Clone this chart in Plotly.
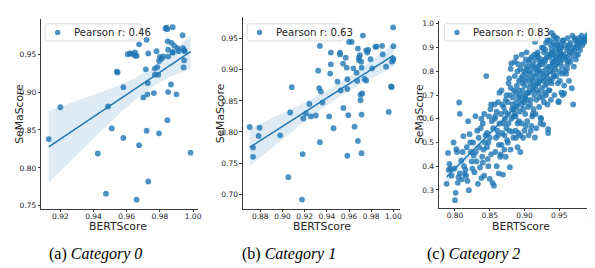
import numpy as np
import plotly.graph_objects as go

W, H = 595, 268
BLUE = "#1f77b4"
TXT = "#262626"

# ---------------- data ----------------
cat0_bert = [0.913, 0.920, 0.9426, 0.9475, 0.9487, 0.951, 0.954, 0.9545, 0.958, 0.958,
             0.9606, 0.962, 0.963, 0.965, 0.965, 0.966, 0.966, 0.9675, 0.9675, 0.970,
             0.9715, 0.972, 0.972, 0.9725, 0.9727, 0.973, 0.973, 0.9764, 0.977, 0.977,
             0.978, 0.9785, 0.979, 0.9795, 0.9795, 0.980, 0.981, 0.982, 0.9834, 0.984,
             0.9845, 0.9845, 0.9847, 0.985, 0.985, 0.985, 0.9867, 0.987, 0.9877, 0.9877,
             0.9877, 0.9887, 0.990, 0.9907, 0.9913, 0.9937, 0.994, 0.9943, 0.9946, 0.9946,
             0.9985, 0.995]
cat0_sema = [0.838, 0.880, 0.819, 0.766, 0.881, 0.852, 0.927, 0.926, 0.9065, 0.8395,
             0.950, 0.951, 0.9505, 0.9525, 0.948, 0.948, 0.758, 0.963, 0.830, 0.893,
             0.930, 0.849, 0.969, 0.897, 0.912, 0.782, 0.951, 0.8987, 0.931, 0.923,
             0.954, 0.933, 0.923, 0.8456, 0.941, 0.9465, 0.944, 0.947, 0.984, 0.985,
             0.983, 0.863, 0.967, 0.900, 0.947, 0.956, 0.910, 0.965, 0.9857, 0.953,
             0.952, 0.961, 0.897, 0.958, 0.954, 0.975, 0.958, 0.9326, 0.942, 0.955,
             0.820, 0.954]

cat1_bert = [0.8704, 0.8735, 0.8735, 0.8785, 0.8794, 0.8979, 0.9053, 0.9069, 0.9084, 0.9176,
             0.9182, 0.9188, 0.9212, 0.9242, 0.9257, 0.9301, 0.9322, 0.9331, 0.9337, 0.9337,
             0.9346, 0.9361, 0.9421, 0.9430, 0.9436, 0.9436, 0.946, 0.9496, 0.9519, 0.9519,
             0.9525, 0.9546, 0.9549, 0.957, 0.9579, 0.9585, 0.9585, 0.9585, 0.9594, 0.960,
             0.9624, 0.9639, 0.965, 0.9668, 0.9674, 0.968, 0.968, 0.9689, 0.9689, 0.9698,
             0.9704, 0.9704, 0.971, 0.9713, 0.9713, 0.9713, 0.9719, 0.9725, 0.974, 0.9755,
             0.9755, 0.9764, 0.9773, 0.9794, 0.9809, 0.9838, 0.9847, 0.9898, 0.9904, 0.9934,
             0.9958, 0.9979, 0.9985, 0.9988, 0.9997, 1.000, 1.000, 0.9998]
cat1_sema = [0.808, 0.775, 0.760, 0.7937, 0.807, 0.7947, 0.7274, 0.8313, 0.872, 0.6914,
             0.7645, 0.8217, 0.8297, 0.845, 0.825, 0.8265, 0.8986, 0.8705, 0.7836, 0.9383,
             0.865, 0.8472, 0.825, 0.8938, 0.9087, 0.9277, 0.806, 0.881, 0.9277, 0.9246,
             0.8668, 0.910, 0.8387, 0.9193, 0.9034, 0.8848, 0.8689, 0.7618, 0.827, 0.9447,
             0.9447, 0.9023, 0.8085, 0.8954, 0.8822, 0.7857, 0.934, 0.9193, 0.9155, 0.9235,
             0.851, 0.860, 0.913, 0.9034, 0.828, 0.766, 0.862, 0.955, 0.8853, 0.931,
             0.8827, 0.9277, 0.932, 0.917, 0.9023, 0.9368, 0.9373, 0.9383, 0.9246, 0.905,
             0.8323, 0.8731, 0.872, 0.913, 0.9155, 0.918, 0.9378, 0.968]

cat2_bert = [
    0.788, 0.790, 0.791, 0.793, 0.795, 0.792,
    0.798, 0.800, 0.801, 0.802, 0.803, 0.805, 0.806, 0.807, 0.804, 0.799,
    0.807, 0.809, 0.810, 0.812, 0.813, 0.814, 0.811, 0.815,
    0.818, 0.819, 0.820, 0.821, 0.822, 0.823, 0.824, 0.817, 0.825, 0.816,
    0.827, 0.828, 0.8295, 0.830, 0.831, 0.833, 0.834, 0.832, 0.826, 0.835,
    0.836, 0.837, 0.838, 0.839, 0.840, 0.841, 0.842, 0.843, 0.844, 0.845, 0.838, 0.840, 0.842,
    0.846, 0.847, 0.848, 0.849, 0.850, 0.851, 0.852, 0.853, 0.854, 0.855, 0.848, 0.850, 0.852, 0.846,
    0.856, 0.857, 0.858, 0.859, 0.860, 0.861, 0.862, 0.863, 0.864, 0.865, 0.857, 0.860, 0.862, 0.864, 0.858, 0.863,
    0.866, 0.867, 0.868, 0.869, 0.870, 0.871, 0.872, 0.873, 0.874, 0.875, 0.866, 0.868, 0.870, 0.872, 0.874, 0.867, 0.871, 0.873,
    0.876, 0.877, 0.878, 0.879, 0.880, 0.881, 0.882, 0.883, 0.884, 0.885, 0.876, 0.878, 0.880, 0.881, 0.882, 0.883, 0.877, 0.879, 0.884, 0.885, 0.876, 0.880,
    0.886, 0.887, 0.888, 0.889, 0.890, 0.891, 0.892, 0.893, 0.894, 0.895, 0.886, 0.887, 0.888, 0.889, 0.890, 0.891, 0.892, 0.893, 0.894, 0.895, 0.886, 0.888, 0.890, 0.892, 0.894, 0.887, 0.891,
    0.896, 0.897, 0.898, 0.899, 0.900, 0.901, 0.902, 0.903, 0.904, 0.905, 0.896, 0.897, 0.898, 0.899, 0.900, 0.901, 0.902, 0.903, 0.904, 0.905, 0.896, 0.898, 0.900, 0.902, 0.904, 0.897, 0.901, 0.903,
    0.906, 0.907, 0.908, 0.909, 0.910, 0.911, 0.912, 0.913, 0.914, 0.915, 0.906, 0.907, 0.908, 0.909, 0.910, 0.911, 0.912, 0.913, 0.914, 0.915, 0.906, 0.908, 0.910, 0.912, 0.914, 0.909, 0.913, 0.915,
    0.916, 0.917, 0.918, 0.919, 0.920, 0.921, 0.922, 0.923, 0.924, 0.925, 0.916, 0.917, 0.918, 0.919, 0.920, 0.921, 0.922, 0.923, 0.924, 0.925, 0.916, 0.918, 0.920, 0.922, 0.924, 0.917, 0.921, 0.923,
    0.926, 0.927, 0.928, 0.929, 0.930, 0.931, 0.932, 0.933, 0.934, 0.935, 0.926, 0.927, 0.928, 0.929, 0.930, 0.931, 0.932, 0.933, 0.934, 0.935, 0.926, 0.928, 0.930, 0.932, 0.934, 0.927, 0.931, 0.933,
    0.936, 0.937, 0.938, 0.939, 0.940, 0.941, 0.942, 0.943, 0.944, 0.945, 0.936, 0.937, 0.938, 0.939, 0.940, 0.941, 0.942, 0.943, 0.944, 0.945, 0.936, 0.938, 0.940, 0.942, 0.944, 0.937, 0.941, 0.939,
    0.946, 0.947, 0.948, 0.949, 0.950, 0.951, 0.952, 0.953, 0.954, 0.955, 0.946, 0.947, 0.948, 0.949, 0.950, 0.951, 0.952, 0.953, 0.954, 0.955, 0.946, 0.948, 0.950, 0.952, 0.954, 0.949, 0.953,
    0.956, 0.957, 0.958, 0.959, 0.960, 0.961, 0.962, 0.963, 0.964, 0.965, 0.956, 0.958, 0.960, 0.962, 0.964, 0.957, 0.961, 0.963,
    0.966, 0.967, 0.968, 0.969, 0.970, 0.971, 0.972, 0.973, 0.974, 0.975, 0.966, 0.968, 0.970, 0.972, 0.974,
    0.976, 0.977, 0.978, 0.979, 0.980, 0.981, 0.982, 0.983, 0.984, 0.985, 0.977,
    0.986, 0.988, 0.990, 0.992, 0.995, 0.997,
]
cat2_sema = [
    0.326, 0.456, 0.385, 0.390, 0.360, 0.410,
    0.500, 0.257, 0.288, 0.472, 0.460, 0.354, 0.669, 0.621, 0.330, 0.390,
    0.370, 0.424, 0.345, 0.527, 0.400, 0.368, 0.460, 0.386,
    0.338, 0.590, 0.299, 0.535, 0.500, 0.460, 0.420, 0.480, 0.390, 0.360,
    0.445, 0.375, 0.611, 0.460, 0.420, 0.326, 0.520, 0.550, 0.500, 0.480,
    0.395, 0.560, 0.600, 0.440, 0.415, 0.470, 0.360, 0.500, 0.530, 0.780, 0.350, 0.580, 0.620,
    0.540, 0.430, 0.500, 0.610, 0.347, 0.640, 0.450, 0.590, 0.330, 0.560, 0.400, 0.520, 0.660, 0.480,
    0.318, 0.600, 0.460, 0.520, 0.630, 0.550, 0.670, 0.490, 0.580, 0.440, 0.660, 0.400, 0.530, 0.710, 0.610, 0.370,
    0.620, 0.720, 0.540, 0.365, 0.650, 0.470, 0.600, 0.680, 0.560, 0.510, 0.450, 0.660, 0.580, 0.630, 0.700, 0.490, 0.530, 0.440,
    0.620, 0.750, 0.550, 0.396, 0.810, 0.833, 0.640, 0.690, 0.520, 0.720, 0.670, 0.770, 0.470, 0.600, 0.545, 0.660, 0.580, 0.700, 0.610, 0.640, 0.500, 0.730,
    0.840, 0.550, 0.670, 0.740, 0.800, 0.830, 0.590, 0.700, 0.460, 0.770, 0.620, 0.710, 0.520, 0.650, 0.580, 0.690, 0.760, 0.630, 0.530, 0.680, 0.780, 0.860, 0.480, 0.720, 0.810, 0.610, 0.540,
    0.870, 0.720, 0.640, 0.800, 0.550, 0.760, 0.850, 0.680, 0.590, 0.820, 0.660, 0.780, 0.520, 0.700, 0.740, 0.620, 0.790, 0.880, 0.710, 0.650, 0.580, 0.830, 0.670, 0.570, 0.770, 0.750, 0.690, 0.810,
    0.840, 0.730, 0.660, 0.790, 0.860, 0.610, 0.760, 0.830, 0.700, 0.924, 0.530, 0.800, 0.750, 0.680, 0.570, 0.820, 0.720, 0.640, 0.870, 0.780, 0.710, 0.850, 0.770, 0.620, 0.810, 0.550, 0.740, 0.521,
    0.850, 0.790, 0.720, 0.880, 0.820, 0.650, 0.770, 0.840, 0.600, 0.900, 0.740, 0.680, 0.810, 0.760, 0.860, 0.710, 0.830, 0.580, 0.790, 0.730, 0.620, 0.870, 0.750, 0.690, 0.850, 0.560, 0.800, 0.604,
    0.830, 0.760, 0.880, 0.710, 0.850, 0.920, 0.790, 0.660, 0.820, 0.870, 0.690, 0.900, 0.780, 0.840, 0.740, 0.810, 0.860, 0.770, 0.556, 0.720, 0.800, 0.670, 0.890, 0.750, 0.540, 0.576, 0.700, 0.930,
    0.860, 0.800, 0.910, 0.750, 0.880, 0.830, 0.950, 0.780, 0.850, 0.900, 0.720, 0.870, 0.820, 0.962, 0.770, 0.920, 0.840, 0.700, 0.810, 0.860, 0.930, 0.680, 0.840, 0.790, 0.940, 0.760, 0.870, 0.890,
    0.880, 0.830, 0.920, 0.860, 0.800, 0.900, 0.840, 0.710, 0.870, 0.930, 0.780, 0.940, 0.850, 0.674, 0.890, 0.760, 0.910, 0.860, 0.820, 0.700, 0.910, 0.750, 0.860, 0.880, 0.790, 0.670, 0.900,
    0.870, 0.708, 0.910, 0.850, 0.790, 0.890, 0.940, 0.840, 0.760, 0.880, 0.930, 0.800, 0.860, 0.830, 0.910, 0.740, 0.810, 0.900,
    0.920, 0.860, 0.729, 0.950, 0.660, 0.820, 0.890, 0.930, 0.850, 0.910, 0.840, 0.880, 0.900, 0.940, 0.870,
    0.930, 0.900, 0.940, 0.920, 0.890, 0.930, 0.950, 0.910, 0.930, 0.920, 0.870,
    0.940, 0.930, 0.950, 0.940, 0.950, 0.940,
]

legend_labels = ["Pearson r: 0.46", "Pearson r: 0.63", "Pearson r: 0.83"]
caption_letters = ["(a)", "(b)", "(c)"]
caption_names = ["Category 0", "Category 1", "Category 2"]
x_label = "BERTScore"
y_label = "SeMaScore"
xtick_vals = [[0.92, 0.94, 0.96, 0.98, 1.00],
              [0.88, 0.90, 0.92, 0.94, 0.96, 0.98, 1.00],
              [0.80, 0.85, 0.90, 0.95, 1.00]]
ytick_vals = [[0.75, 0.80, 0.85, 0.90, 0.95],
              [0.70, 0.75, 0.80, 0.85, 0.90, 0.95],
              [0.3, 0.4, 0.5, 0.6, 0.7, 0.8, 0.9, 1.0]]
xtick_fmt = ["{:.2f}", "{:.2f}", "{:.2f}"]
ytick_fmt = ["{:.2f}", "{:.2f}", "{:.1f}"]

series = [(cat0_bert, cat0_sema), (cat1_bert, cat1_sema), (cat2_bert, cat2_sema)]
for bx, sy in series:
    assert len(bx) == len(sy), (len(bx), len(sy))

# ---------------- layout geometry (pixels) ----------------
geom = [
    dict(xcal=(0.92, 52.7, 1.00, 186.3), xpx=(33.5, 191.0), ycal=(0.95, 45.7, 0.75, 199.0), ypx=(10.0, 202.0),
         leg=(37.3, 15.0, 133.5, 32.3), legdot=50.0, legtext=64.5, xtitle=(111, 220), ytitle=(12, 106), cap=88.5),
    dict(xcal=(0.88, 254.0, 1.00, 388.0), xpx=(236.5, 395.0), ycal=(0.95, 30.0, 0.70, 187.3), ypx=(8.5, 202.0),
         leg=(240.7, 15.0, 337.5, 32.3), legdot=253.3, legtext=267.8, xtitle=(316, 220), ytitle=(214, 106), cap=283.0),
    dict(xcal=(0.80, 450.0, 1.00, 590.0), xpx=(434.0, 595.0), ycal=(1.0, 15.0, 0.3, 183.0), ypx=(12.0, 201.0),
         leg=(439.3, 15.0, 535.0, 32.3), legdot=452.0, legtext=466.5, xtitle=(516, 220), ytitle=(415, 106), cap=469.0),
]

TICK_SIZE = 7.5
LABEL_SIZE = 10.8
LEGEND_SIZE = 10.2
CAPTION_SIZE = 16


def px_range(cal, px):
    v1, p1, v2, p2 = cal
    k = (v2 - v1) / (p2 - p1)
    return [v1 + (px[0] - p1) * k, v1 + (px[1] - p1) * k]


def fx(p):
    return min(max(p / W, 0.0), 1.0)


def fy(p):
    return min(max(1 - p / H, 0.0), 1.0)


def rounded_rect(x0, y0, x1, y1, r):
    X0, X1 = fx(x0), fx(x1)
    Y0, Y1 = fy(y0), fy(y1)
    rx, ry = r / W, r / H
    return (f"M {X0+rx},{Y0} L {X1-rx},{Y0} Q {X1},{Y0} {X1},{Y0-ry} "
            f"L {X1},{Y1+ry} Q {X1},{Y1} {X1-rx},{Y1} L {X0+rx},{Y1} "
            f"Q {X0},{Y1} {X0},{Y1+ry} L {X0},{Y0-ry} Q {X0},{Y0} {X0+rx},{Y0} Z")


fig = go.Figure()
layout = dict(width=W, height=H, margin=dict(l=0, r=0, t=0, b=0),
              paper_bgcolor="white", plot_bgcolor="white", showlegend=False,
              font=dict(family="DejaVu Sans", color=TXT))
shapes, annotations = [], []

for i, ((bx, sy), g) in enumerate(zip(series, geom)):
    sfx = "" if i == 0 else str(i + 1)
    xa, ya = "x" + sfx, "y" + sfx
    x = np.array(bx)
    y = np.array(sy)
    n = len(x)

    # scatter
    fig.add_trace(go.Scatter(x=x, y=y, mode="markers", xaxis=xa, yaxis=ya,
                             marker=dict(size=5.8, color=BLUE, opacity=0.8, line=dict(width=0)),
                             hoverinfo="skip", cliponaxis=False))

    # linear fit with 95% confidence band
    slope, intercept = np.polyfit(x, y, 1)
    grid = np.linspace(x.min(), x.max(), 100)
    fit = slope * grid + intercept
    resid = y - (slope * x + intercept)
    s = np.sqrt(np.sum(resid ** 2) / (n - 2))
    sxx = np.sum((x - x.mean()) ** 2)
    tval = 1.96 + 2.4 / (n - 2)
    half = tval * s * np.sqrt(1.0 / n + (grid - x.mean()) ** 2 / sxx)
    fig.add_trace(go.Scatter(x=np.concatenate([grid, grid[::-1]]),
                             y=np.concatenate([fit + half, (fit - half)[::-1]]),
                             mode="lines", fill="toself", fillcolor="rgba(31,119,180,0.15)",
                             line=dict(width=0), xaxis=xa, yaxis=ya, hoverinfo="skip"))
    fig.add_trace(go.Scatter(x=grid, y=fit, mode="lines", line=dict(color=BLUE, width=1.5),
                             xaxis=xa, yaxis=ya, hoverinfo="skip"))

    xr = px_range(g["xcal"], g["xpx"])
    yr = px_range(g["ycal"], g["ypx"])
    axis_common = dict(showgrid=False, zeroline=False, showline=True, linecolor="#3a3a3a", linewidth=0.9,
                       ticks="outside", ticklen=2.5, tickwidth=0.8, tickcolor="#3a3a3a",
                       tickfont=dict(size=TICK_SIZE, family="DejaVu Sans", color=TXT), fixedrange=True)
    layout["xaxis" + sfx] = dict(axis_common, domain=[fx(g["xpx"][0]), fx(g["xpx"][1])], range=xr,
                                 anchor=ya, tickvals=xtick_vals[i], ticklabeloverflow="allow",
                                 ticklabelstandoff=-2,
                                 ticktext=[xtick_fmt[i].format(v) for v in xtick_vals[i]])
    layout["yaxis" + sfx] = dict(axis_common, domain=[fy(g["ypx"][1]), fy(g["ypx"][0])],
                                 range=[yr[1], yr[0]], anchor=xa, tickvals=ytick_vals[i],
                                 ticklabeloverflow="allow",
                                 ticktext=[ytick_fmt[i].format(v) for v in ytick_vals[i]])

    # axis titles
    annotations.append(dict(x=fx(g["xtitle"][0]), y=fy(g["xtitle"][1]), xref="paper", yref="paper",
                            text=x_label, showarrow=False, xanchor="center", yanchor="middle",
                            font=dict(size=LABEL_SIZE, family="DejaVu Sans", color=TXT)))
    annotations.append(dict(x=fx(g["ytitle"][0]), y=fy(g["ytitle"][1]), xref="paper", yref="paper",
                            text=y_label, showarrow=False, textangle=-90, xanchor="center", yanchor="middle",
                            font=dict(size=LABEL_SIZE, family="DejaVu Sans", color=TXT)))

    # legend box
    lx0, ly0, lx1, ly1 = g["leg"]
    shapes.append(dict(type="path", path=rounded_rect(lx0, ly0, lx1, ly1, 2.5), xref="paper", yref="paper",
                       fillcolor="rgba(255,255,255,0.85)", line=dict(color="#d0d0d0", width=0.8), layer="above"))
    cy = (ly0 + ly1) / 2
    r = 2.7
    shapes.append(dict(type="circle", xref="paper", yref="paper",
                       x0=fx(g["legdot"] - r), x1=fx(g["legdot"] + r), y0=fy(cy + r), y1=fy(cy - r),
                       fillcolor=BLUE, opacity=0.8, line=dict(width=0), layer="above"))
    annotations.append(dict(x=fx(g["legtext"]), y=fy(cy), xref="paper", yref="paper",
                            text=legend_labels[i], showarrow=False, xanchor="left", yanchor="middle",
                            font=dict(size=LEGEND_SIZE, family="DejaVu Sans", color=TXT)))

    # caption
    annotations.append(dict(x=fx(g["cap"]), y=fy(248), xref="paper", yref="paper",
                            text=f"{caption_letters[i]} <i>{caption_names[i]}</i>", showarrow=False,
                            xanchor="center", yanchor="middle",
                            font=dict(size=CAPTION_SIZE, family="Liberation Serif", color="black")))

layout["shapes"] = shapes
layout["annotations"] = annotations
fig.update_layout(**layout)
fig.write_html("out.html", config={"displayModeBar": False})
